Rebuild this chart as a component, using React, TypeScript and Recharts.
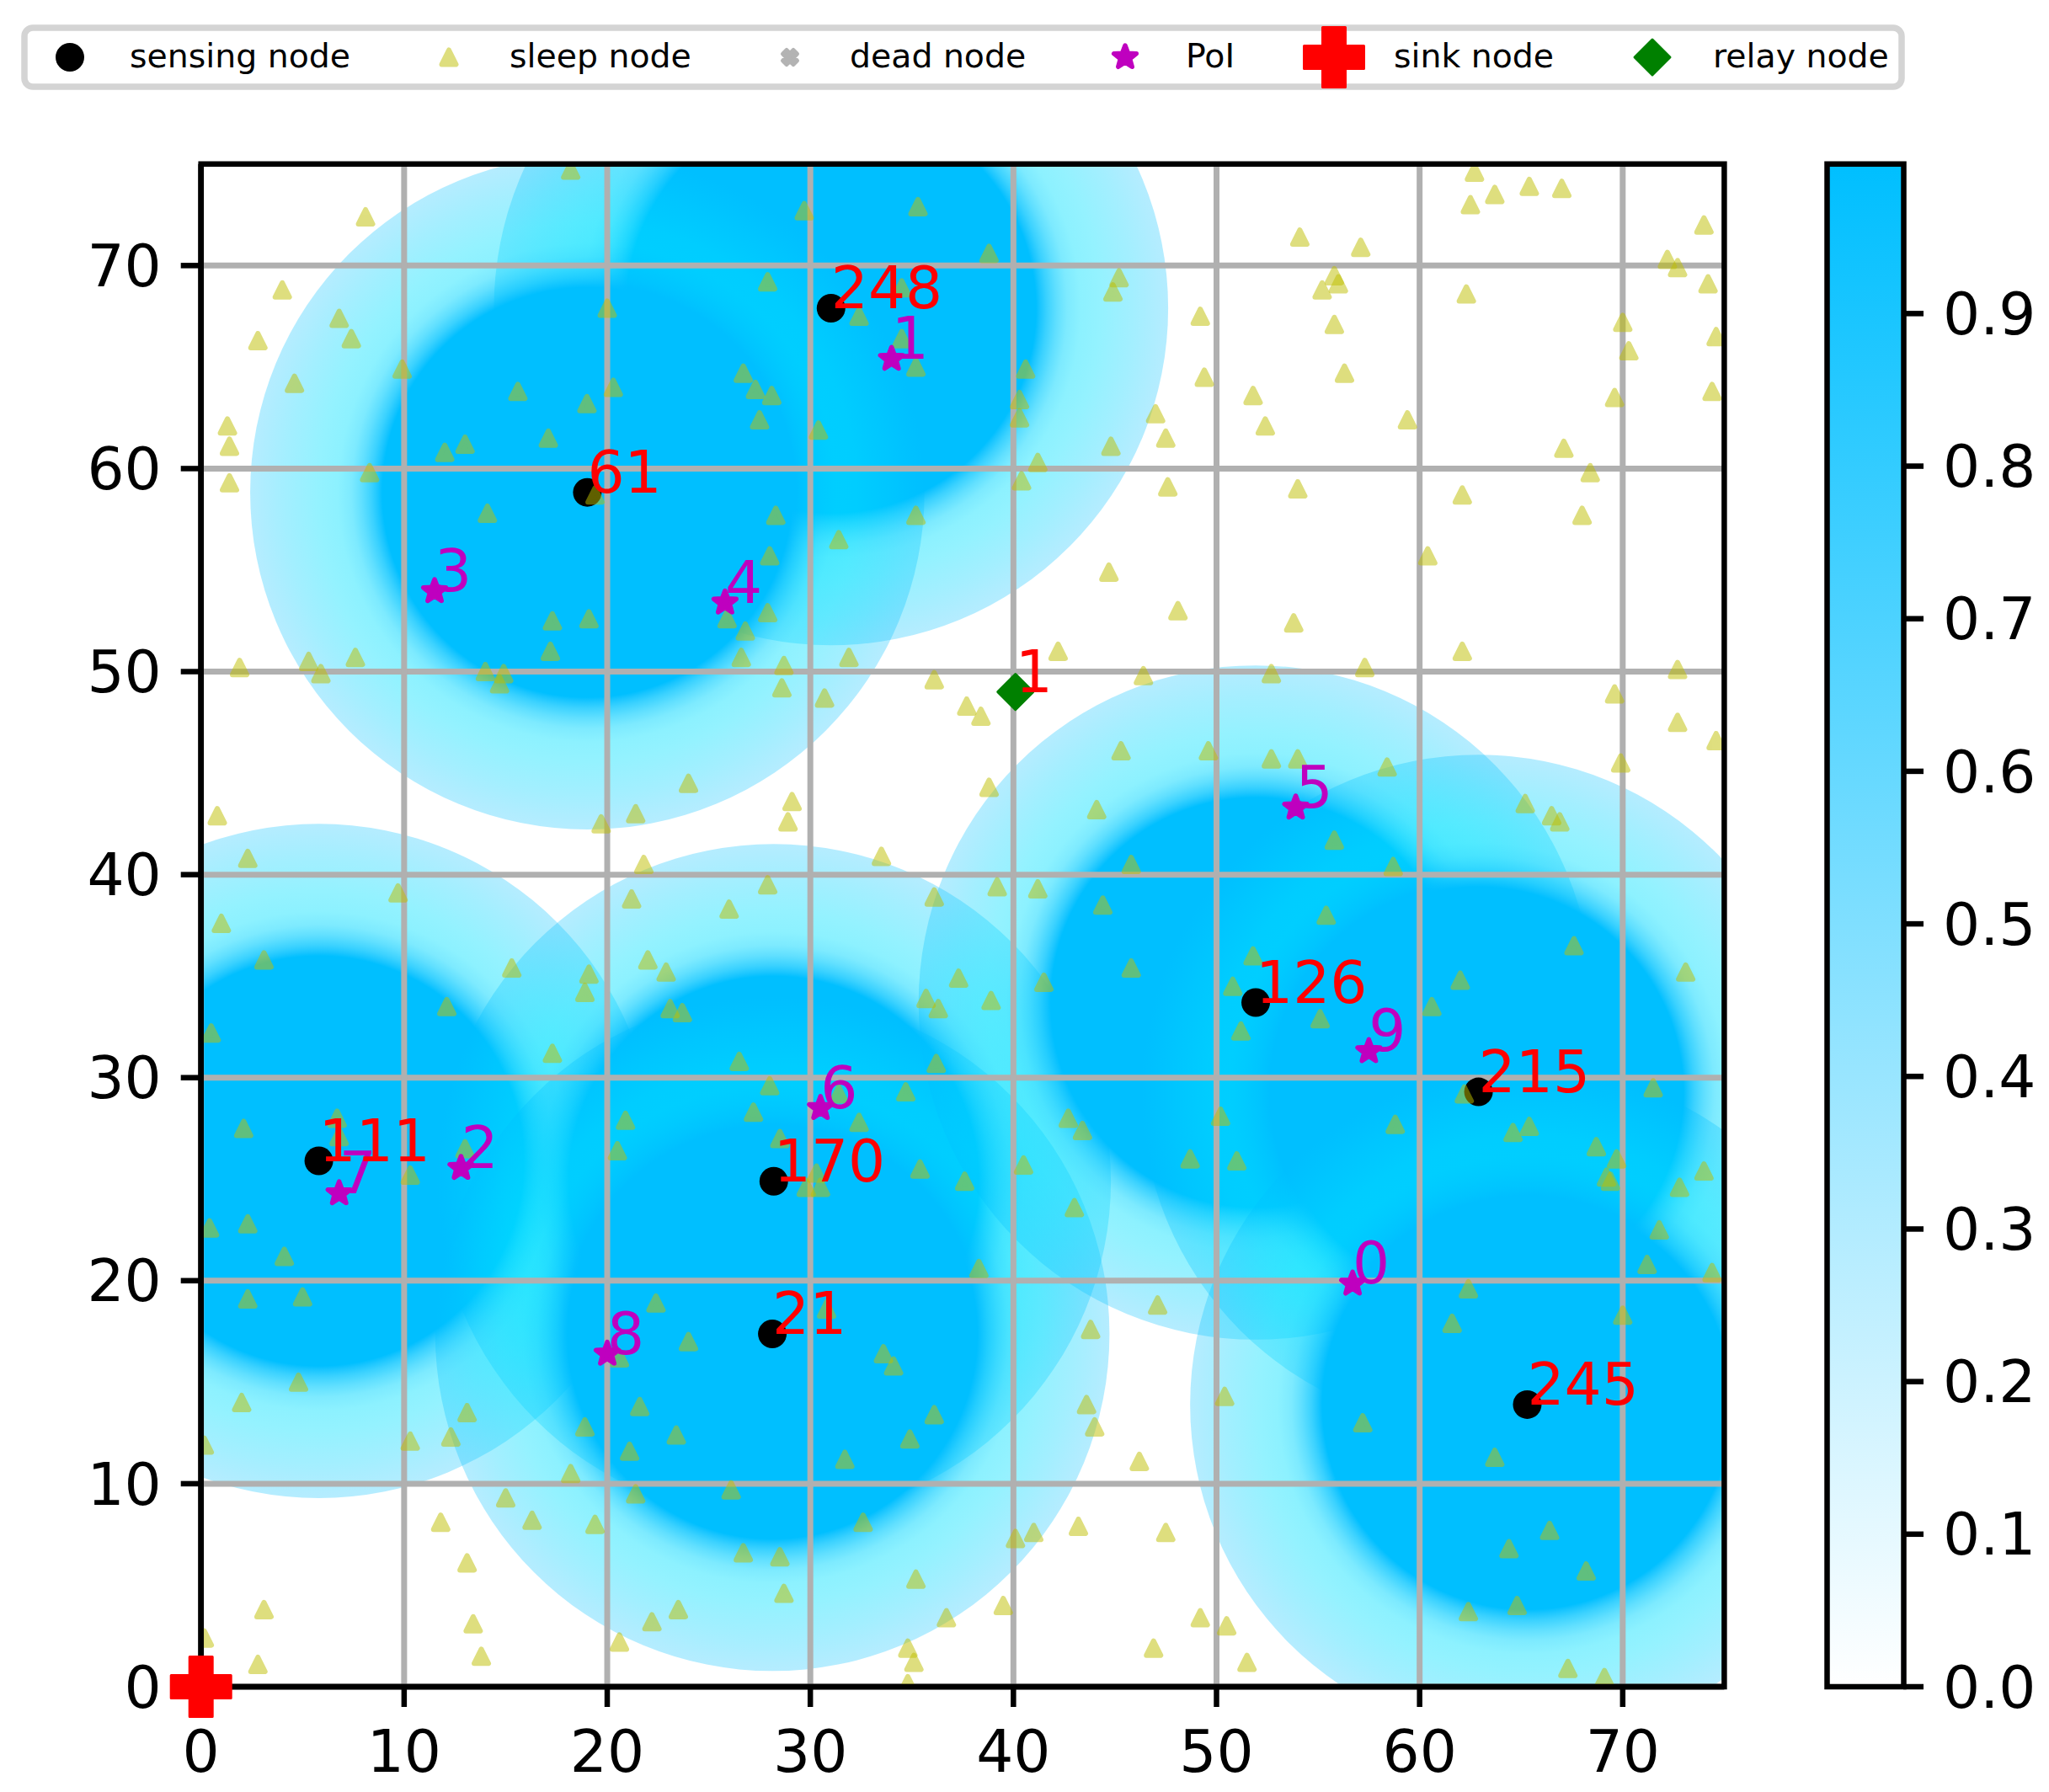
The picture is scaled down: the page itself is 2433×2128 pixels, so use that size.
import {
  Bar,
  BarChart,
  CartesianGrid,
  Legend,
  ReferenceArea,
  Scatter,
  ScatterChart,
  XAxis,
  YAxis,
} from "recharts";

const WIDTH = 2433;
const HEIGHT = 2128;
const PLOT_LEFT = 238.7;
const PLOT_RIGHT = 2047.4;
const PLOT_TOP = 194.8;
const PLOT_BOTTOM = 2003;
const PX_PER_UNIT = (PLOT_RIGHT - PLOT_LEFT) / 75;
const FONT = "DejaVu Sans";
const TICK_SIZE = 69.4;
const LINE = 6.5;

const axisTicks = [0, 10, 20, 30, 40, 50, 60, 70];
const colorbarTicks = [0, 0.1, 0.2, 0.3, 0.4, 0.5, 0.6, 0.7, 0.8, 0.9];
const colorbarMax = 0.998;
const coverageRadius = 16.6;

const legendLabels = ["sensing node", "sleep node", "dead node", "PoI", "sink node", "relay node"];
const legendMarkerX = [83, 533, 938, 1336, 1584, 1962];
const legendTextX = [154, 605, 1009, 1408, 1655, 2034];

// x, y, id
const sensingNodes = [
  { x: 31.02, y: 67.9, id: "248" },
  { x: 19.02, y: 58.83, id: "61" },
  { x: 5.8, y: 25.9, id: "111" },
  { x: 28.2, y: 24.9, id: "170" },
  { x: 28.13, y: 17.38, id: "21" },
  { x: 51.93, y: 33.7, id: "126" },
  { x: 62.9, y: 29.3, id: "215" },
  { x: 65.3, y: 13.9, id: "245" },
];

const pois = [
  { x: 56.7, y: 19.85, id: "0" },
  { x: 34.0, y: 65.4, id: "1" },
  { x: 12.8, y: 25.55, id: "2" },
  { x: 11.5, y: 53.96, id: "3" },
  { x: 25.8, y: 53.4, id: "4" },
  { x: 53.9, y: 43.3, id: "5" },
  { x: 30.5, y: 28.5, id: "6" },
  { x: 6.8, y: 24.3, id: "7" },
  { x: 20.0, y: 16.4, id: "8" },
  { x: 57.5, y: 31.3, id: "9" },
];

const relayNodes = [{ x: 40.1, y: 49.0, id: "1" }];
const sinkNodes = [{ x: 0, y: 0 }];

const sleepCoords: [number, number][] = [
  [18.2, 74.7], [8.1, 72.4], [4.0, 68.8], [6.8, 67.4], [7.4, 66.4], [2.8, 66.3], [9.9, 64.9], [4.6, 64.2],
  [20.0, 67.9], [15.6, 63.8], [20.3, 64.0], [19.0, 63.2], [1.3, 62.1], [1.4, 61.1], [17.1, 61.5], [13.0, 61.2],
  [12.0, 60.8], [1.4, 59.3], [8.3, 59.8], [19.4, 58.7], [14.1, 57.8], [17.3, 52.5], [19.1, 52.6], [17.2, 51.0],
  [1.9, 50.2], [5.3, 50.5], [7.6, 50.7], [5.9, 49.9], [14.0, 50.0], [14.9, 49.9], [14.7, 49.4],
  [29.7, 72.7], [35.3, 72.9], [38.8, 70.6], [27.9, 69.2], [34.5, 68.9], [32.4, 67.5], [34.5, 66.4], [35.2, 65.0],
  [26.7, 64.7], [27.3, 63.9], [28.1, 63.6], [27.5, 62.4], [30.4, 61.9], [40.6, 64.9], [40.3, 63.4], [40.3, 62.5],
  [41.2, 60.3], [40.4, 59.4], [45.2, 69.4], [44.9, 68.7], [49.2, 67.5], [49.4, 64.5], [47.0, 62.7], [47.5, 61.5],
  [44.8, 61.1], [47.6, 59.1], [28.3, 57.7], [35.2, 57.7], [31.4, 56.5], [28.0, 55.7], [44.7, 54.9], [27.9, 52.9],
  [25.9, 52.6], [26.8, 52.0], [48.1, 53.0], [26.6, 50.7], [31.9, 50.7], [28.7, 50.3], [42.2, 51.0], [46.4, 49.8],
  [36.1, 49.6], [28.6, 49.2], [30.7, 48.7], [37.7, 48.3], [38.4, 47.8], [45.3, 46.1], [49.6, 46.1], [38.8, 44.3],
  [44.1, 43.2], [29.1, 43.6], [28.9, 42.6], [33.5, 40.9], [45.8, 40.5], [27.9, 39.5], [26.0, 38.3], [36.1, 38.9],
  [39.2, 39.4], [41.2, 39.3], [44.4, 38.5], [37.3, 34.9], [35.7, 33.9], [36.3, 33.4], [38.9, 33.8], [41.5, 34.7],
  [45.8, 35.4], [36.2, 30.7], [26.5, 30.8], [28.0, 29.6], [27.2, 28.3], [34.7, 29.3], [31.4, 29.2], [32.4, 27.8],
  [42.7, 28.0], [43.4, 27.4], [50.2, 28.1], [28.5, 27.0], [35.4, 25.5], [40.5, 25.7], [37.6, 24.9], [48.7, 26.0],
  [30.3, 25.3], [29.8, 24.6], [30.5, 24.6], [51.0, 25.9], [50.8, 34.5],
  [62.7, 74.6], [63.7, 73.5], [65.4, 73.9], [67.0, 73.8], [62.5, 73.0], [74.0, 72.0], [54.1, 71.4], [57.1, 70.9],
  [72.2, 70.3], [72.7, 69.9], [55.8, 69.5], [56.0, 69.1], [55.2, 68.8], [62.3, 68.6], [74.2, 69.1], [55.8, 67.1],
  [70.0, 67.2], [74.6, 66.5], [70.3, 65.8], [56.3, 64.7], [51.8, 63.6], [69.6, 63.5], [74.4, 63.8], [52.4, 62.1],
  [59.4, 62.4], [67.1, 61.0], [68.4, 59.8], [54.0, 59.0], [62.1, 58.7], [68.0, 57.7], [60.4, 55.7], [53.8, 52.4],
  [62.1, 51.0], [57.3, 50.2], [72.7, 50.1], [52.7, 49.9],
  [69.6, 48.9], [72.7, 47.5], [74.6, 46.6], [69.9, 45.5], [52.7, 45.7], [54.0, 45.7], [58.4, 45.3], [65.2, 43.5],
  [66.5, 42.9], [66.9, 42.6], [55.8, 41.7], [58.7, 40.4], [55.4, 38.0], [67.6, 36.5], [73.1, 35.2], [51.8, 36.0],
  [62.0, 34.8], [60.6, 33.5], [51.2, 32.3], [55.1, 32.9], [71.5, 29.5], [62.2, 29.2], [58.8, 27.7], [65.4, 27.6],
  [64.6, 27.3], [68.7, 26.6], [69.7, 26.0], [69.2, 25.1], [69.4, 24.9], [74.0, 25.4], [72.8, 24.6],
  [71.8, 22.5], [71.2, 20.8], [74.4, 20.4], [62.4, 19.6], [61.6, 17.9], [70.0, 18.3], [50.4, 14.3], [57.2, 13.0],
  [63.7, 11.3], [66.4, 7.7], [64.4, 6.8], [68.2, 5.7], [64.8, 4.0], [62.4, 3.7], [50.5, 3.0], [51.5, 1.2],
  [67.3, 0.9], [69.1, 0.45],
  [43.0, 23.6], [38.3, 20.6], [47.1, 18.8], [30.8, 18.6], [43.8, 17.6], [33.6, 16.4], [34.1, 15.8], [36.1, 13.4],
  [43.6, 13.9], [44.0, 12.8], [34.9, 12.2], [31.7, 11.2], [46.2, 11.1], [26.1, 9.7], [32.6, 8.1], [43.2, 7.9],
  [41.0, 7.6], [40.1, 7.3], [47.5, 7.6], [26.7, 6.6], [28.5, 6.4], [35.2, 5.3], [28.7, 4.6], [39.5, 4.0],
  [36.7, 3.4], [49.2, 3.4], [34.8, 1.9], [35.1, 1.2], [46.9, 1.9], [34.8, 0.15],
  [0.8, 42.9], [2.3, 40.8], [19.7, 42.5], [21.4, 43.0], [24.0, 44.5], [21.8, 40.5], [21.2, 38.8], [9.7, 39.1],
  [1.0, 37.6], [3.1, 35.8], [15.3, 35.4], [22.0, 35.8], [22.9, 35.2], [19.1, 35.1], [18.9, 34.2], [23.1, 33.4],
  [23.7, 33.2], [12.1, 33.5], [0.5, 32.2], [17.3, 31.2], [6.7, 28.0], [2.1, 27.5], [6.8, 27.1], [20.9, 27.9],
  [13.0, 26.5], [20.5, 26.4], [10.3, 25.2],
  [0.42, 22.6], [2.3, 22.8], [4.1, 21.2], [2.3, 19.1], [5.0, 19.2], [22.4, 18.9], [24.0, 17.0], [4.8, 15.0],
  [2.0, 14.0], [21.6, 13.8], [18.9, 12.8], [13.1, 13.5], [23.4, 12.4], [21.1, 11.6], [12.3, 12.3], [10.3, 12.1],
  [0.16, 11.9], [18.2, 10.5], [21.4, 9.5], [15.0, 9.3], [16.3, 8.2], [19.4, 8.0], [11.8, 8.1], [13.1, 6.1],
  [3.1, 3.8], [23.5, 3.8], [22.2, 3.2], [13.4, 3.1], [0.16, 2.4], [20.6, 2.2], [13.8, 1.5], [2.8, 1.1], [20.6, 16.2],
];
const sleepNodes = sleepCoords.map(([x, y]) => ({ x, y }));

const starPoints = (cx: number, cy: number, r: number) => {
  const pts: string[] = [];
  for (let i = 0; i < 10; i++) {
    const rr = i % 2 === 0 ? r : r * 0.42;
    const a = -Math.PI / 2 + (i * Math.PI) / 5;
    pts.push(`${cx + rr * Math.cos(a)},${cy + rr * Math.sin(a)}`);
  }
  return pts.join(" ");
};

const CircleMark = ({ cx, cy }: any) => <circle cx={cx} cy={cy} r={17} fill="#000" />;

const TriangleMark = ({ cx, cy }: any) => (
  <polygon
    points={`${cx},${cy - 8.5} ${cx + 8.5},${cy + 8.5} ${cx - 8.5},${cy + 8.5}`}
    fill="#bfbf00"
    stroke="#bfbf00"
    strokeWidth={6}
    strokeLinejoin="round"
    opacity={0.5}
  />
);

const StarMark = ({ cx, cy }: any) => (
  <polygon
    points={starPoints(cx, cy, 14)}
    fill="#bf00bf"
    stroke="#bf00bf"
    strokeWidth={5.5}
    strokeLinejoin="round"
  />
);

const DiamondMark = ({ cx, cy }: any) => (
  <polygon
    points={`${cx},${cy - 21} ${cx + 21},${cy} ${cx},${cy + 21} ${cx - 21},${cy}`}
    fill="#008000"
    stroke="#008000"
    strokeWidth={3}
    strokeLinejoin="round"
  />
);

const PlusMark = ({ cx, cy }: any) => {
  const a = 13.5;
  const b = 35.5;
  return (
    <polygon
      points={`${cx - a},${cy - b} ${cx + a},${cy - b} ${cx + a},${cy - a} ${cx + b},${cy - a} ${cx + b},${cy + a} ${cx + a},${cy + a} ${cx + a},${cy + b} ${cx - a},${cy + b} ${cx - a},${cy + a} ${cx - b},${cy + a} ${cx - b},${cy - a} ${cx - a},${cy - a}`}
      fill="#ff0000"
      stroke="#ff0000"
      strokeWidth={3}
      strokeLinejoin="round"
    />
  );
};

const CrossMark = ({ cx, cy }: any) => {
  const a = 4.5;
  const b = 8.5;
  return (
    <polygon
      points={`${cx - b},${cy - b + a} ${cx - b + a},${cy - b} ${cx},${cy - a} ${cx + b - a},${cy - b} ${cx + b},${cy - b + a} ${cx + a},${cy} ${cx + b},${cy + b - a} ${cx + b - a},${cy + b} ${cx},${cy + a} ${cx - b + a},${cy + b} ${cx - b},${cy + b - a} ${cx - a},${cy}`}
      fill="#b3b3b3"
      stroke="#b3b3b3"
      strokeWidth={5}
      strokeLinejoin="round"
    />
  );
};

const legendMarks = [CircleMark, TriangleMark, CrossMark, StarMark, PlusMark, DiamondMark];

const LegendBox = () => (
  <svg width={WIDTH} height={120} style={{ display: "block" }}>
    <rect x={29} y={33} width={2229} height={70} rx={10} fill="#fff" stroke="#d4d4d4" strokeWidth={7.5} />
    {legendLabels.map((label, i) => {
      const Mark = legendMarks[i];
      return (
        <g key={label}>
          <Mark cx={legendMarkerX[i]} cy={68} />
          <text x={legendTextX[i]} y={80} fontFamily={FONT} fontSize={39.4} fill="#000">
            {label}
          </text>
        </g>
      );
    })}
  </svg>
);

const CoverageDisc = ({ cx, cy }: any) => (
  <circle cx={cx} cy={cy} r={coverageRadius * PX_PER_UNIT} fill="url(#coverage)" />
);

const nodeLabel = (color: string) => ({ cx, cy, id }: any) => (
  <text x={cx} y={cy} fontFamily={FONT} fontSize={TICK_SIZE} fill={color}>
    {id}
  </text>
);

const axisTick = { fill: "#000", fontSize: TICK_SIZE, fontFamily: FONT };
const axisStroke = { stroke: "#000", strokeWidth: LINE };

export default function App() {
  return (
    <div style={{ position: "absolute", left: 0, top: 0, width: WIDTH, height: HEIGHT, background: "#fff" }}>
      <div style={{ position: "absolute", left: 0, top: 0 }}>
        <ScatterChart
          width={WIDTH}
          height={HEIGHT}
          margin={{ top: PLOT_TOP, right: WIDTH - PLOT_RIGHT, bottom: 0, left: 0 }}
        >
          <defs>
            <radialGradient id="coverage">
              <stop offset="0.608" stopColor="#00bfff" stopOpacity={1} />
              <stop offset="0.62" stopColor="#00bfff" stopOpacity={0.9} />
              <stop offset="0.64" stopColor="#00c4ff" stopOpacity={0.77} />
              <stop offset="0.67" stopColor="#00ccff" stopOpacity={0.62} />
              <stop offset="0.7" stopColor="#00d6ff" stopOpacity={0.51} />
              <stop offset="0.74" stopColor="#00e0ff" stopOpacity={0.45} />
              <stop offset="0.8" stopColor="#00e0ff" stopOpacity={0.42} />
              <stop offset="0.9" stopColor="#00d2ff" stopOpacity={0.36} />
              <stop offset="1" stopColor="#00bfff" stopOpacity={0.29} />
            </radialGradient>
          </defs>
          <XAxis
            dataKey="x"
            type="number"
            domain={[0, 75]}
            ticks={axisTicks}
            allowDataOverflow
            interval={0}
            height={HEIGHT - PLOT_BOTTOM}
            tick={axisTick}
            tickSize={24}
            tickMargin={28}
            tickLine={axisStroke}
            axisLine={axisStroke}
          />
          <YAxis
            dataKey="y"
            type="number"
            domain={[0, 75]}
            ticks={axisTicks}
            allowDataOverflow
            interval={0}
            width={PLOT_LEFT}
            tick={axisTick}
            tickSize={24}
            tickMargin={23}
            tickLine={axisStroke}
            axisLine={axisStroke}
          />
          <XAxis xAxisId="free" dataKey="x" type="number" domain={[0, 75]} hide />
          <YAxis yAxisId="free" dataKey="y" type="number" domain={[0, 75]} hide />

          <Scatter data={sensingNodes} shape={CoverageDisc} isAnimationActive={false} zIndex={-200} />
          <CartesianGrid stroke="#b0b0b0" strokeWidth={7} strokeDasharray="" horizontalValues={axisTicks} verticalValues={axisTicks} />
          <Scatter data={sensingNodes} shape={CircleMark} isAnimationActive={false} />
          <Scatter data={sleepNodes} shape={TriangleMark} isAnimationActive={false} />
          <Scatter data={pois} shape={StarMark} isAnimationActive={false} />
          <Scatter data={relayNodes} shape={DiamondMark} isAnimationActive={false} />
          <Scatter data={pois} shape={nodeLabel("#bf00bf")} isAnimationActive={false} />
          <Scatter data={sensingNodes} shape={nodeLabel("#ff0000")} isAnimationActive={false} />
          <Scatter data={relayNodes} shape={nodeLabel("#ff0000")} isAnimationActive={false} />
          <ReferenceArea x1={0} x2={75} y1={0} y2={75} fill="none" stroke="#000" strokeWidth={LINE} zIndex={650} />
          <Scatter
            data={sinkNodes}
            xAxisId="free"
            yAxisId="free"
            shape={PlusMark}
            isAnimationActive={false}
            zIndex={700}
          />
          <Legend
            verticalAlign="middle"
            content={LegendBox}
            wrapperStyle={{ position: "absolute", left: 0, top: 0, width: WIDTH, height: 120 }}
          />
        </ScatterChart>
      </div>
      <div style={{ position: "absolute", left: 0, top: 0 }}>
        <BarChart
          width={WIDTH}
          height={HEIGHT}
          data={[{ name: "colorbar", value: colorbarMax }]}
          margin={{ top: PLOT_TOP, right: 0, bottom: HEIGHT - PLOT_BOTTOM, left: 2169.5 }}
          barCategoryGap={0}
        >
          <defs>
            <linearGradient id="colorbarFill" x1="0" y1="1" x2="0" y2="0">
              <stop offset="0" stopColor="#ffffff" />
              <stop offset="1" stopColor="#00bfff" />
            </linearGradient>
          </defs>
          <XAxis dataKey="name" hide />
          <YAxis
            orientation="right"
            type="number"
            domain={[0, colorbarMax]}
            ticks={colorbarTicks}
            interval={0}
            width={WIDTH - 2260}
            tickFormatter={(v: number) => v.toFixed(1)}
            tick={axisTick}
            tickSize={24}
            tickMargin={23}
            tickLine={axisStroke}
            axisLine={false}
          />
          <Bar dataKey="value" fill="url(#colorbarFill)" stroke="#000" strokeWidth={LINE} isAnimationActive={false} />
        </BarChart>
      </div>
    </div>
  );
}
